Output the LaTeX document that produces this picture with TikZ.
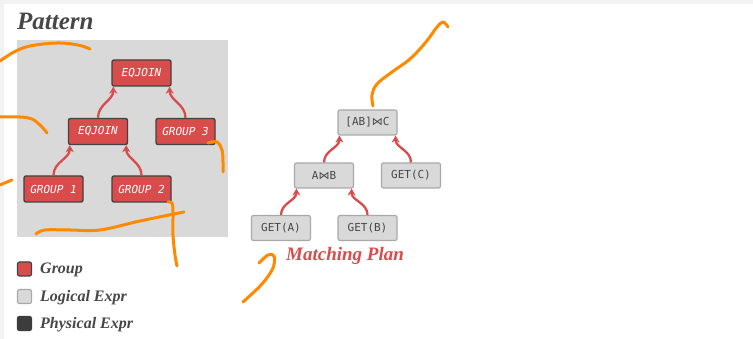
\documentclass[tikz,border=0pt]{standalone}
\usepackage{fontspec}
\setmainfont{Liberation Serif}
\newfontfamily\boxmono{DejaVu Sans Mono}
\newfontfamily\symfont{DejaVu Sans}
\usetikzlibrary{arrows.meta}

\definecolor{grpred}{HTML}{D94C4C}
\definecolor{grpedge}{HTML}{424242}
\definecolor{panelgray}{HTML}{D9D9D9}
\definecolor{logfill}{HTML}{D9D9D9}
\definecolor{logedge}{HTML}{A9A9A9}
\definecolor{ink}{HTML}{474747}
\definecolor{flowred}{HTML}{DA4B4B}
\definecolor{pen}{HTML}{FF8A00}
\definecolor{framegray}{HTML}{F2F2F2}
\definecolor{physdark}{HTML}{3C3C3C}

\newcommand{\bowsym}{{\symfont\char"22C8}}

\tikzset{
  grpbox/.style={draw=grpedge, fill=grpred, line width=1.4pt, rounded corners=2pt,
    minimum width=59pt, minimum height=26pt, inner sep=0pt, text=white,
    font=\boxmono\itshape\fontsize{11}{11}\selectfont},
  logbox/.style={draw=logedge, fill=logfill, line width=1.2pt, rounded corners=2pt,
    minimum width=59pt, minimum height=25pt, inner sep=0pt, text=ink,
    font=\boxmono\fontsize{11}{11}\selectfont},
  flow/.style={draw=flowred, line width=2.3pt,
    -{Stealth[length=7pt,width=8pt]}},
  legsq/.style={line width=1.2pt, rounded corners=2pt, minimum width=14pt,
    minimum height=14pt, inner sep=0pt},
  legtxt/.style={anchor=base west, inner sep=0pt, text=ink,
    font=\bfseries\itshape\fontsize{16}{16}\selectfont},
  stroke/.style={draw=pen, line width=3pt, line cap=round, line join=round}
}

\begin{document}
\begin{tikzpicture}[x=1pt,y=1pt]
% page frame
\fill[framegray] (0,0) rectangle (753,-339);
\fill[white] (4,-4) rectangle (753,-339);
\useasboundingbox (0,0) rectangle (753,-339);

% title
\node[anchor=base west, inner sep=0pt, text=ink,
  font=\bfseries\itshape\fontsize{25}{25}\selectfont] (title) at (17,-30) {Pattern};

% pattern panel
\node[fill=panelgray, minimum width=211pt, minimum height=197pt, inner sep=0pt,
  anchor=north west] (panel) at (17,-40) {};

% pattern tree
\node[grpbox] (eqtop) at (141.5,-73)   {EQJOIN};
\node[grpbox] (eqmid) at (98,-131.5)   {EQJOIN};
\node[grpbox] (g3)    at (185.5,-131.5){GROUP 3};
\node[grpbox] (g1)    at (53.5,-189)   {GROUP 1};
\node[grpbox] (g2)    at (141.5,-189)  {GROUP 2};

\draw[flow] (eqmid.north) to[out=90,in=-90] ([xshift=2pt]eqtop.south west);
\draw[flow] (g3.north)    to[out=90,in=-90] ([xshift=-2pt]eqtop.south east);
\draw[flow] (g1.north)    to[out=90,in=-90] ([xshift=2pt]eqmid.south west);
\draw[flow] (g2.north)    to[out=90,in=-90] ([xshift=-2pt]eqmid.south east);

% matching plan tree
\node[logbox] (abc) at (367.5,-122.5) {[AB]\bowsym C};
\node[logbox] (ab)  at (324,-175.5)   {A\bowsym B};
\node[logbox] (gc)  at (411,-175.5)   {GET(C)};
\node[logbox] (ga)  at (281,-228)     {GET(A)};
\node[logbox] (gb)  at (367.5,-228)   {GET(B)};

\draw[flow] (ab.north) to[out=90,in=-90] ([xshift=2pt]abc.south west);
\draw[flow] (gc.north) to[out=90,in=-90] ([xshift=-2pt]abc.south east);
\draw[flow] (ga.north) to[out=90,in=-90] ([xshift=2.5pt]ab.south west);
\draw[flow] (gb.north) to[out=90,in=-90] ([xshift=-2.5pt]ab.south east);

\node[anchor=base west, inner sep=0pt, text=flowred,
  font=\bfseries\itshape\fontsize{19}{19}\selectfont] (plan) at (286,-261) {Matching Plan};

% legend
\node[legsq, fill=grpred, draw=grpedge]   (kgrp) at (24.5,-269) {};
\node[legsq, fill=logfill, draw=logedge]  (klog) at (24.5,-296.5) {};
\node[legsq, fill=physdark, draw=physdark] (kphy) at (24.5,-323.5) {};
\node[legtxt] (tgrp) at (40,-274) {Group};
\node[legtxt] (tlog) at (40,-301.5) {Logical Expr};
\node[legtxt] (tphy) at (40,-329) {Physical Expr};

% hand-drawn pen strokes
\draw[stroke] plot[smooth, tension=0.6] coordinates {(0,-61) (14,-52) (30,-46) (57,-43) (78,-45) (90,-49)};
\draw[stroke] plot[smooth, tension=0.6] coordinates {(0,-117) (20,-117) (32,-119) (41,-126) (47,-133)};
\draw[stroke] plot[smooth, tension=0.6] coordinates {(0,-185) (7,-182) (12,-180)};
\draw[stroke] plot[smooth, tension=0.6] coordinates {(208,-143) (217,-142) (222,-150) (223,-162) (223,-172)};
\draw[stroke] plot[smooth, tension=0.6] coordinates {(36,-234) (45,-230) (70,-230) (100,-230) (140,-221) (184,-212)};
\draw[stroke] plot[smooth, tension=0.6] coordinates {(168,-202) (172,-203) (173,-212) (173,-235) (175,-255) (177,-266)};
\draw[stroke] plot[smooth, tension=0.6] coordinates {(259,-263) (268,-255) (274,-256) (273,-268) (262,-284) (243,-302)};
\draw[stroke] plot[smooth, tension=0.6] coordinates {(373,-106) (372,-95) (377,-84) (392,-72) (410,-59) (426,-42) (437,-27) (443,-22) (448,-27)};
\end{tikzpicture}
\end{document}
